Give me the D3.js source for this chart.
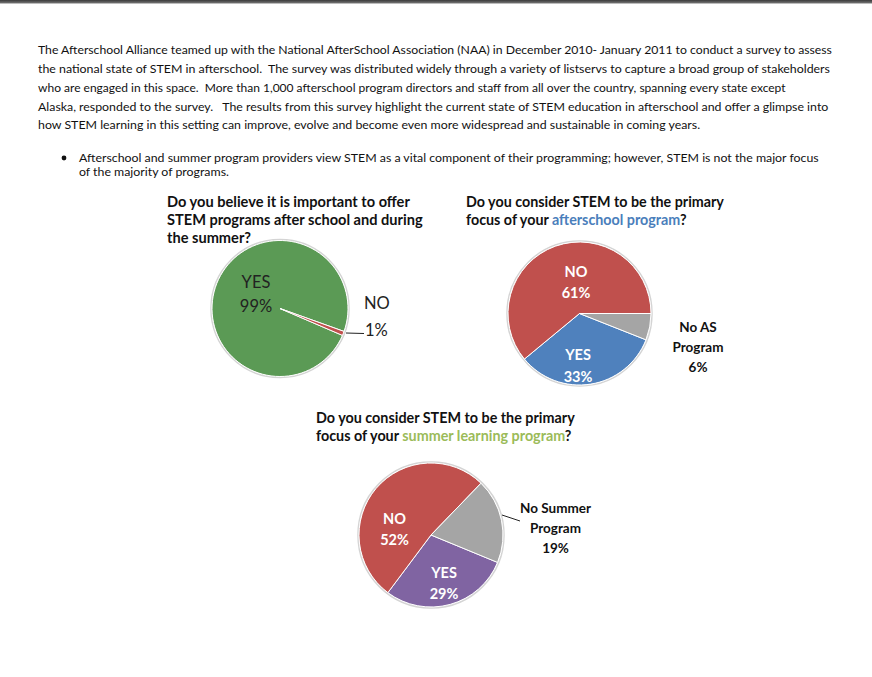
<!DOCTYPE html>
<html><head><meta charset="utf-8">
<script src="https://cdn.jsdelivr.net/npm/d3@7"></script>
<style>body{margin:0;background:#fff;overflow:hidden} svg{display:block}</style>
</head><body>
<script>
// ---------- DATA ----------
const introLines = [
  "The Afterschool Alliance teamed up with the National AfterSchool Association (NAA) in December 2010- January 2011 to conduct a survey to assess",
  "the national state of STEM in afterschool.  The survey was distributed widely through a variety of listservs to capture a broad group of stakeholders",
  "who are engaged in this space.  More than 1,000 afterschool program directors and staff from all over the country, spanning every state except",
  "Alaska, responded to the survey.   The results from this survey highlight the current state of STEM education in afterschool and offer a glimpse into",
  "how STEM learning in this setting can improve, evolve and become even more widespread and sustainable in coming years."
];
const bulletLines = [
  "Afterschool and summer program providers view STEM as a vital component of their programming; however, STEM is not the major focus",
  "of the majority of programs."
];
const q1TitleLines = [
  [["Do you believe it is important to offer", 0]],
  [["STEM programs after school and during", 0]],
  [["the summer?", 0]]
];
const q2TitleLines = [
  [["Do you consider STEM to be the primary", 0]],
  [["focus of your ", 0], ["afterschool program", 1], ["?", 0]]
];
const q3TitleLines = [
  [["Do you consider STEM to be the primary", 0]],
  [["focus of your ", 0], ["summer learning program", 1], ["?", 0]]
];
const q1Categories = ["YES", "NO"];
const q1Values = [99, 1];
const q2Categories = ["YES", "NO", "No AS Program"];
const q2Values = [33, 61, 6];
const q3Categories = ["YES", "NO", "No Summer Program"];
const q3Values = [29, 52, 19];

// ---------- LAYOUT ----------
const W = 872, H = 677;
const svg = d3.select("body").append("svg").attr("width", W).attr("height", H);
const FONT = "Lato, 'Open Sans', sans-serif";

const defs = svg.append("defs");
const grad = defs.append("linearGradient").attr("id", "topbar").attr("x1", 0).attr("y1", 0).attr("x2", 0).attr("y2", 1);
grad.append("stop").attr("offset", "0%").attr("stop-color", "#3a3a3a");
grad.append("stop").attr("offset", "100%").attr("stop-color", "#7a7a7a");
svg.append("rect").attr("x", 0).attr("y", 0).attr("width", W).attr("height", 3.5).attr("fill", "url(#topbar)");

function fitText(sel, target, base) {
  sel.attr("font-size", base);
  const w = sel.node().getComputedTextLength();
  const s = base * target / w;
  sel.attr("font-size", s);
  return s;
}

// intro paragraph (last line uses the size of the full lines)
const introWidths = [794, 793, 748, 791];
const introY = [54, 73, 92, 110.5, 129];
let introSize = 13;
introLines.forEach((t, i) => {
  const el = svg.append("text").attr("x", 38).attr("y", introY[i])
    .attr("font-family", FONT).attr("fill", "#111")
    .style("white-space", "pre").text(t);
  if (i < introWidths.length) introSize = fitText(el, introWidths[i], 13);
  else el.attr("font-size", introSize);
});

// bullet
svg.append("circle").attr("cx", 64).attr("cy", 158).attr("r", 2.4).attr("fill", "#111");
const bulletY = [162, 176];
let bulletSize = 13;
bulletLines.forEach((t, i) => {
  const el = svg.append("text").attr("x", 79).attr("y", bulletY[i])
    .attr("font-family", FONT).attr("fill", "#111").text(t);
  if (i === 0) bulletSize = fitText(el, 740, 13);
  else el.attr("font-size", bulletSize);
});

// titles
function drawTitle(lines, x, ys, firstWidth, hiColor) {
  let size = null;
  lines.forEach((segs, i) => {
    const el = svg.append("text").attr("x", x).attr("y", ys[i])
      .attr("font-family", FONT).attr("font-weight", "bold").attr("fill", "#111")
      .style("white-space", "pre");
    segs.forEach(s => el.append("tspan").attr("fill", s[1] ? hiColor : "#111").text(s[0]));
    if (i === 0) size = fitText(el, firstWidth, 15);
    else el.attr("font-size", size);
  });
}
drawTitle(q1TitleLines, 167, [206.5, 224.5, 242.5], 243, "#111");
drawTitle(q2TitleLines, 466, [206.5, 224.5], 258, "#4A7EBB");
drawTitle(q3TitleLines, 316, [423, 441], 259, "#9BBB59");

// pies
const deg = Math.PI / 180;
function drawPie(cfg) {
  const data = cfg.categories.map((c, i) => ({ c, v: cfg.values[i], color: cfg.colors[i] }));
  const pie = d3.pie().sort(null).value(d => d.v)
    .startAngle(cfg.start * deg).endAngle(cfg.start * deg + 2 * Math.PI);
  const arc = d3.arc().innerRadius(0).outerRadius(cfg.r);
  const g = svg.append("g").attr("transform", `translate(${cfg.cx},${cfg.cy})`);
  g.append("circle").attr("r", cfg.r + 1).attr("fill", "none").attr("stroke", "#d4d4d4").attr("stroke-width", 1.5);
  g.selectAll("path").data(pie(data)).join("path")
    .attr("d", arc).attr("fill", d => d.data.color)
    .attr("stroke", "#fff").attr("stroke-width", 1).attr("stroke-linejoin", "round");
  return g;
}
function label(x, y, lines, opts) {
  lines.forEach((t, i) => {
    svg.append("text").attr("x", x).attr("y", y + i * opts.lh)
      .attr("text-anchor", opts.anchor || "middle")
      .attr("font-family", FONT).attr("font-weight", opts.bold ? "bold" : "normal")
      .attr("font-size", opts.size).attr("fill", opts.color).text(t);
  });
}

// Q1
drawPie({ cx: 280, cy: 308.5, r: 68, start: 113.3, categories: q1Categories, values: q1Values, colors: ["#5B9A55", "#C0504D"] });
label(256, 287.5, [q1Categories[0], q1Values[0] + "%"], { lh: 24.5, size: 16.5, color: "#222" });
label(364, 309, [q1Categories[1]], { lh: 0, size: 16.5, color: "#222", anchor: "start" });
label(365, 335.5, [q1Values[1] + "%"], { lh: 0, size: 16.5, color: "#222", anchor: "start" });
svg.append("line").attr("x1", 346).attr("y1", 333).attr("x2", 364).attr("y2", 333.5).attr("stroke", "#222").attr("stroke-width", 1);

// Q2
drawPie({ cx: 579.5, cy: 313.5, r: 71.5, start: 111.6, categories: q2Categories, values: q2Values, colors: ["#4F81BD", "#C0504D", "#A5A5A5"] });
label(576, 276.5, [q2Categories[1], q2Values[1] + "%"], { lh: 21, size: 14.5, color: "#fff", bold: true });
label(578, 360, [q2Categories[0], q2Values[0] + "%"], { lh: 21.5, size: 14.5, color: "#fff", bold: true });
label(698, 332, ["No AS", "Program", q2Values[2] + "%"], { lh: 20, size: 13.5, color: "#111", bold: true });

// Q3
drawPie({ cx: 431, cy: 535, r: 72, start: 112.4, categories: q3Categories, values: q3Values, colors: ["#8064A2", "#C0504D", "#A5A5A5"] });
label(394.5, 523.5, [q3Categories[1], q3Values[1] + "%"], { lh: 21, size: 14.5, color: "#fff", bold: true });
label(444, 577.5, [q3Categories[0], q3Values[0] + "%"], { lh: 21.5, size: 14.5, color: "#fff", bold: true });
label(555.5, 513, ["No Summer", "Program", q3Values[2] + "%"], { lh: 20, size: 13.5, color: "#111", bold: true });
svg.append("line").attr("x1", 502).attr("y1", 515).attr("x2", 520).attr("y2", 521).attr("stroke", "#222").attr("stroke-width", 1);
</script>
</body></html>
